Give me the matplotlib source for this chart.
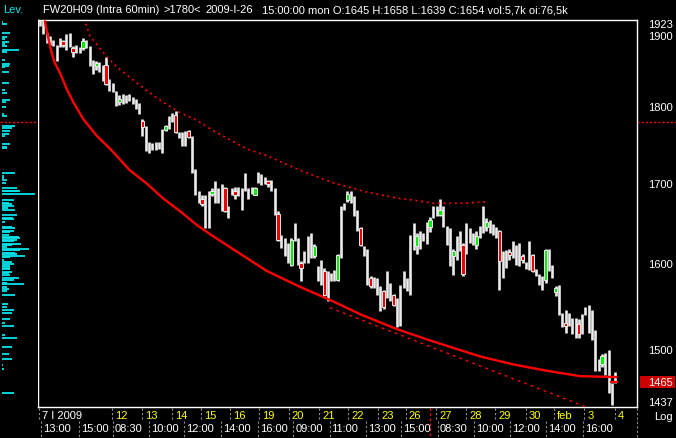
import matplotlib.pyplot as plt
from matplotlib.patches import Rectangle
from matplotlib.transforms import blended_transform_factory, offset_copy

plt.rcParams['font.family'] = ['Liberation Sans', 'DejaVu Sans']

# hourly bars, FW20H09, 7 Jan - 4 Feb 2009
highs = [1922, 1923, 1904, 1899, 1894, 1887, 1897, 1894, 1902, 1904,
         1885, 1886, 1883, 1897, 1893, 1885, 1866, 1864, 1862, 1859,
         1869, 1839, 1833, 1822, 1817, 1818, 1817, 1818, 1814, 1811,
         1806, 1785, 1775, 1754, 1752, 1754, 1754, 1771, 1777, 1789,
         1793, 1795, 1767, 1767, 1769, 1770, 1762, 1719, 1690, 1685,
         1685, 1690, 1694, 1703, 1694, 1700, 1696, 1672, 1694, 1696,
         1696, 1694, 1713, 1694, 1696, 1695, 1715, 1712, 1709, 1705,
         1704, 1694, 1665, 1635, 1632, 1626, 1632, 1650, 1632, 1604,
         1616, 1634, 1638, 1624, 1598, 1605, 1596, 1592, 1590, 1593,
         1613, 1671, 1675, 1690, 1690, 1684, 1666, 1646, 1622, 1619,
         1586, 1585, 1584, 1574, 1569, 1592, 1578, 1565, 1560, 1575,
         1592, 1584, 1635, 1650, 1638, 1640, 1638, 1652, 1658, 1672,
         1672, 1681, 1671, 1647, 1644, 1619, 1634, 1640, 1626, 1650,
         1644, 1638, 1640, 1647, 1672, 1656, 1654, 1649, 1646, 1642,
         1616, 1617, 1619, 1628, 1623, 1626, 1613, 1603, 1628, 1613,
         1594, 1588, 1586, 1619, 1619, 1599, 1574, 1575, 1543, 1546,
         1543, 1537, 1537, 1535, 1541, 1550, 1552, 1546, 1523, 1490,
         1496, 1497, 1500, 1464, 1476]
lows = [1913, 1902, 1890, 1886, 1885, 1864, 1883, 1883, 1880, 1883,
        1869, 1875, 1875, 1880, 1882, 1857, 1846, 1852, 1848, 1836,
        1830, 1822, 1821, 1802, 1803, 1805, 1806, 1809, 1805, 1798,
        1791, 1762, 1742, 1739, 1744, 1743, 1745, 1739, 1769, 1771,
        1781, 1766, 1759, 1749, 1749, 1759, 1713, 1685, 1676, 1671,
        1644, 1644, 1684, 1675, 1675, 1665, 1664, 1656, 1686, 1681,
        1684, 1666, 1690, 1681, 1687, 1685, 1701, 1698, 1700, 1696,
        1691, 1660, 1628, 1620, 1610, 1601, 1598, 1628, 1599, 1580,
        1601, 1601, 1607, 1607, 1580, 1575, 1562, 1557, 1580, 1580,
        1580, 1607, 1666, 1677, 1675, 1659, 1641, 1622, 1610, 1575,
        1572, 1572, 1564, 1545, 1547, 1560, 1557, 1551, 1526, 1528,
        1572, 1568, 1563, 1617, 1612, 1619, 1628, 1625, 1639, 1656,
        1659, 1659, 1646, 1623, 1598, 1587, 1605, 1616, 1586, 1613,
        1626, 1623, 1619, 1632, 1638, 1641, 1638, 1635, 1632, 1569,
        1584, 1595, 1605, 1607, 1599, 1598, 1601, 1594, 1593, 1591,
        1586, 1575, 1569, 1578, 1592, 1584, 1562, 1540, 1526, 1520,
        1528, 1518, 1514, 1514, 1518, 1540, 1520, 1511, 1477, 1477,
        1481, 1472, 1452, 1440, 1464]
# bars with a visible coloured body: index -> (open, close)
bodies = {7: (1892, 1886), 10: (1882, 1877), 13: (1882, 1892), 17: (1857, 1861),
          20: (1859, 1832), 24: (1807, 1811), 31: (1782, 1774), 38: (1770, 1775),
          41: (1790, 1767), 45: (1769, 1761), 49: (1681, 1674), 52: (1687, 1690),
          56: (1694, 1665), 59: (1690, 1686), 65: (1685, 1694), 69: (1703, 1699),
          72: (1662, 1629), 76: (1599, 1629), 79: (1601, 1595), 83: (1610, 1622),
          86: (1592, 1563), 90: (1581, 1611), 93: (1679, 1687), 97: (1644, 1623),
          100: (1584, 1574), 104: (1568, 1549), 107: (1564, 1552), 114: (1622, 1634),
          118: (1645, 1654), 121: (1660, 1667), 125: (1610, 1616), 128: (1623, 1588),
          132: (1623, 1634), 135: (1645, 1652), 139: (1640, 1604), 142: (1615, 1611),
          146: (1610, 1605), 149: (1611, 1592), 153: (1581, 1617), 156: (1567, 1572),
          159: (1531, 1528), 163: (1530, 1518), 170: (1485, 1494)}

# drawn lines (bar index, price)
arc_x = [1.5, 2.4, 3.5, 4.5, 6.1, 8.1, 10.0, 13.0, 17.2, 21.2, 27.2, 32.3, 37.3, 42.4,
         47.4, 52.4, 58.5, 68.6, 78.7, 88.7, 96.9, 107.9, 118.0, 133.1, 143.2, 153.3,
         163.4, 174.3]
arc_y = [1920, 1899, 1876, 1861, 1847, 1825, 1808, 1785, 1762, 1745, 1717, 1700, 1681, 1665,
         1648, 1634, 1618, 1592, 1573, 1556, 1541, 1524, 1511, 1493, 1484, 1477,
         1471, 1470]
upper_x = [13.9, 15.1, 17.2, 20.2, 23.2, 27.2, 32.3, 37.3, 42.4, 47.4, 52.4, 57.0,
           62.5, 68.6, 78.7, 88.7, 98.9, 108.9, 113.0, 119.0, 123.1, 128.1, 135.6]
upper_y = [1917, 1899, 1887, 1870, 1856, 1841, 1823, 1807, 1793, 1783, 1769, 1758,
           1745, 1736, 1717, 1701, 1689, 1681, 1679, 1675, 1675, 1675, 1677]
lower_x = [87.7, 169.4]
lower_y = [1548.6, 1431.6]

# volume-at-level panel
lev_prices = [1919, 1917, 1904, 1898, 1895, 1891, 1888, 1885, 1880, 1877,
              1866, 1860, 1857, 1855, 1849, 1833, 1824, 1820, 1810, 1807,
              1801, 1791, 1788, 1775, 1772, 1768, 1765, 1762, 1751, 1748,
              1746, 1714, 1710, 1707, 1704, 1701, 1694, 1691, 1690, 1687,
              1679, 1676, 1674, 1671, 1669, 1666, 1660, 1657, 1655, 1652,
              1646, 1644, 1641, 1639, 1636, 1633, 1632, 1630, 1628, 1625,
              1623, 1621, 1619, 1617, 1614, 1612, 1610, 1609, 1605, 1603,
              1600, 1598, 1596, 1594, 1591, 1589, 1587, 1584, 1581, 1578,
              1576, 1573, 1571, 1568, 1563, 1553, 1550, 1546, 1543, 1536,
              1531, 1528, 1517, 1514, 1504, 1496, 1490, 1483, 1479, 1453]
lev_sizes = [1, 5, 8, 5, 3, 7, 3, 5, 17, 5,
             3, 8, 7, 3, 7, 7, 3, 5, 8, 4,
             4, 2, 5, 13, 10, 8, 7, 3, 8, 5,
             5, 13, 2, 2, 5, 4, 15, 18, 15, 33,
             12, 7, 10, 12, 6, 13, 15, 11, 12, 3,
             10, 13, 12, 8, 7, 17, 18, 15, 12, 19,
             10, 5, 27, 18, 13, 15, 23, 8, 2, 10,
             12, 8, 8, 8, 10, 7, 8, 17, 12, 5,
             22, 5, 7, 5, 13, 6, 5, 12, 10, 8,
             3, 12, 3, 15, 10, 7, 10, 1, 2, 12]

day_pos = [-0.3, 21.8, 30.9, 39.9, 48.7, 57.5, 66.3, 75.3, 84.4, 93.2, 102.3,
           110.7, 119.8, 128.9, 137.7, 147.0, 155.5, 164.6, 174.0]
day_labels = ['7 I 2009', '12', '13', '14', '15', '16', '19', '20', '21', '22', '23',
              '26', '27', '28', '29', '30', 'feb', '3', '4']
time_pos = [0.2, 11.7, 22.1, 32.9, 43.6, 54.8, 66.0, 76.6, 87.6, 98.6, 109.2,
            120.4, 131.3, 142.2, 153.1, 164.3]
time_labels = ['13:00', '15:00', '08:30', '10:00', '12:00', '14:00', '16:00', '09:00',
               '11:00', '13:00', '15:00', '08:30', '10:00', '12:00', '14:00', '16:00']
price_ticks = [1900, 1800, 1700, 1600, 1500]
y_min, y_max = 1437, 1923
last_price = 1465
cursor_bar = 118
cursor_price = 1780

W, H = 676, 438
BAR = '#ececec'
RED = '#ff0000'
CYAN = '#00e5ee'
YELLOW = '#ffff00'
FS = 8


def px_rect(l, t, r, b):
    return [l / W, 1 - b / H, (r - l) / W, (b - t) / H]


fig = plt.figure(figsize=(W / 100, H / 100), dpi=100, facecolor='black')
ax = fig.add_axes(px_rect(38, 19.5, 637, 407.3))
lev = fig.add_axes(px_rect(0, 19.5, 38, 407.3), sharey=ax)

ax.set_facecolor('black')
ax.set_yscale('log')
ax.set_ylim(y_min, y_max)
ax.set_xlim(-0.6, 180.6)
for s in ax.spines.values():
    s.set_color('white')
    s.set_linewidth(1.0)
for a in (ax, lev):
    a.tick_params(which='both', left=False, right=False, bottom=False, top=False,
                  labelleft=False, labelbottom=False)

# candles
xs = list(range(len(highs)))
ax.vlines(xs, lows, highs, colors=BAR, lw=1.9)
for i, (o, c) in bodies.items():
    col = '#00ee00' if c > o else '#ee0000'
    ax.add_patch(Rectangle((i - 0.5, min(o, c)), 1.0, abs(c - o),
                           facecolor=col, edgecolor=BAR, lw=0.7, zorder=3))

# trend lines
ax.plot(arc_x, arc_y, color=RED, lw=1.7, zorder=4)
ax.plot(upper_x, upper_y, color=RED, lw=1.2, ls=(0, (1.2, 2.2)), zorder=4)
ax.plot(lower_x, lower_y, color=RED, lw=1.0, ls=(0, (2, 3)), zorder=4)

# left volume panel
lev.set_facecolor('black')
lev.set_xlim(0, 38)
for s in lev.spines.values():
    s.set_visible(False)
lev.hlines(lev_prices, 1.7, [1.7 + v for v in lev_sizes], colors=CYAN, lw=1.3)
lev.axhline(cursor_price, color=RED, lw=1.0, ls=(0, (1.5, 1.5)))
fig.text(2.7 / W, 1 - 13.3 / H, 'Lev.', color=CYAN, fontsize=FS, va='baseline')

# header
hy = 1 - 13.3 / H
fig.text(42.7 / W, hy, 'FW20H09 (Intra 60min)', color='white', fontsize=FS, va='baseline')
fig.text(163 / W, hy, '>%d<' % cursor_price, color='white', fontsize=FS, va='baseline')
fig.text(205 / W, hy, '2009-I-26', color='white', fontsize=FS, va='baseline')
fig.text(261.7 / W, hy, '15:00:00 mon O:1645 H:1658 L:1639 C:1654 vol:5,7k oi:76,5k',
         color='white', fontsize=FS, va='baseline')

# right price scale
ytr = ax.get_yaxis_transform()
rx = (673 - 38) / 599
for p in price_ticks:
    ax.text(rx, p, str(p), transform=offset_copy(ytr, fig=fig, y=-4, units='dots'),
            color='white', fontsize=FS, ha='right', va='baseline')
ax.text(rx, y_max, str(y_max), transform=offset_copy(ytr, fig=fig, y=-8, units='dots'),
        color='white', fontsize=FS, ha='right', va='baseline')
ax.text(rx, y_min, str(y_min), transform=offset_copy(ytr, fig=fig, y=1, units='dots'),
        color='white', fontsize=FS, ha='right', va='baseline')
ax.plot([1, 1.07], [cursor_price, cursor_price], transform=ytr, color=RED, lw=1.0,
        ls=(0, (1.5, 1.5)), clip_on=False)

# last price box
fig.canvas.draw()
yc = fig.transFigure.inverted().transform(ax.transData.transform((0, last_price)))[1]
fig.add_artist(Rectangle((640 / W, yc - 6 / H), 35 / W, 12 / H, transform=fig.transFigure,
                         facecolor='#cc0000', edgecolor='none'))
fig.text(673 / W, yc - 4 / H, str(last_price), color='white', fontsize=FS,
         ha='right', va='baseline')
ax.plot([172.6, 174.5], [last_price, last_price], color=RED, lw=1.5, zorder=5)

# time axis
xtr = blended_transform_factory(ax.transData, fig.transFigure)
r1_top, r1_bot, r2_bot = 1 - 408 / H, 1 - 421 / H, 0
for p, lab in zip(day_pos, day_labels):
    ax.plot([p, p], [r1_top, r1_bot], transform=xtr, color='#8c8c8c', lw=0.8,
            ls=(0, (2, 2)), clip_on=False)
    ax.text(p + 0.9, 1 - 419 / H, lab, transform=xtr, fontsize=FS, va='baseline',
            color='white' if p < 0 else YELLOW)
for p, lab in zip(time_pos, time_labels):
    ax.plot([p, p], [r1_bot, r2_bot], transform=xtr, color='#8c8c8c', lw=0.8,
            ls=(0, (2, 2)), clip_on=False)
    ax.text(p + 0.6, 1 - 432.3 / H, lab, transform=xtr, fontsize=FS, va='baseline',
            color='white')
ax.plot([180.6, 180.6], [r1_top, r2_bot], transform=xtr, color='#8c8c8c', lw=0.8,
        ls=(0, (2, 2)), clip_on=False)
ax.plot([cursor_bar, cursor_bar], [r1_top, r2_bot], transform=xtr, color=RED, lw=0.9,
        ls=(0, (2, 2)), clip_on=False)
fig.text(673 / W, 1 - 419.5 / H, 'Log', color='white', fontsize=FS, ha='right', va='baseline')

fig.savefig('out.png', dpi=100, facecolor='black')
